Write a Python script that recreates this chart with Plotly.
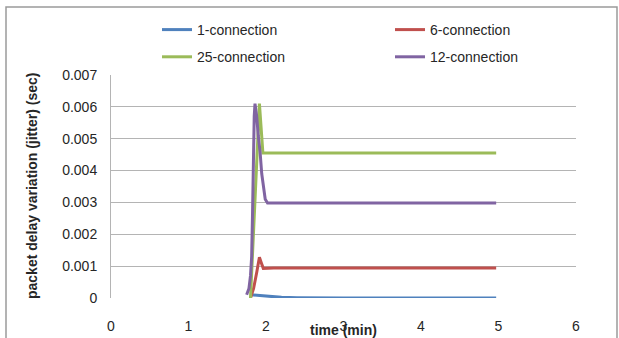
import plotly.graph_objects as go

# ---- data ----
x_1 = [1.81, 1.86, 1.92, 2.0, 2.1, 2.2, 2.4, 2.7, 3.0, 4.97]
y_1 = [0.0001, 0.00009, 0.00007, 0.00005, 0.00003, 0.00002, 0.00001, 0.000005, 0.0, 0.0]

x_6 = [1.80, 1.84, 1.88, 1.915, 1.94, 1.965, 2.1, 4.97]
y_6 = [0.0, 0.0003, 0.0008, 0.00128, 0.0011, 0.00093, 0.00094, 0.00094]

x_25 = [1.80, 1.86, 1.915, 1.96, 2.1, 4.97]
y_25 = [0.0, 0.0030, 0.0061, 0.00455, 0.00455, 0.00455]

x_12 = [1.75, 1.78, 1.80, 1.815, 1.825, 1.836, 1.848, 1.858, 1.88, 1.90, 1.923, 1.945, 1.965, 1.99, 2.02, 2.2, 4.97]
y_12 = [0.0001, 0.0003, 0.0007, 0.0013, 0.0025, 0.0044, 0.0057, 0.0061, 0.0057, 0.0051, 0.0046, 0.0039,
        0.0035, 0.0031, 0.00298, 0.00298, 0.00298]

names = ["1-connection", "6-connection", "25-connection", "12-connection"]
colors = ["#4F81BD", "#C0504D", "#9BBB59", "#8064A2"]
legends = ["legend", "legend2", "legend", "legend2"]

x_ticks = [0, 1, 2, 3, 4, 5, 6]
y_ticks = [0, 0.001, 0.002, 0.003, 0.004, 0.005, 0.006, 0.007]
y_tick_text = ["0", "0.001", "0.002", "0.003", "0.004", "0.005", "0.006", "0.007"]

FONT = "Liberation Sans, Arial, sans-serif"
TXT = "#262626"

fig = go.Figure()
for xs, ys, n, c, lg in zip([x_1, x_6, x_25, x_12], [y_1, y_6, y_25, y_12], names, colors, legends):
    fig.add_trace(go.Scatter(x=xs, y=ys, mode="lines", name=n, legend=lg, legendgroup=n,
                             line=dict(color=c, width=3)))

L, R, T, B = 111, 43, 75, 40
W, H = 619, 338
pw, ph = W - L - R, H - T - B

leg_common = dict(yanchor="top", xanchor="left", orientation="v", tracegroupgap=6,
                  traceorder="grouped", font=dict(family=FONT, size=14, color=TXT),
                  bgcolor="rgba(0,0,0,0)", itemwidth=30)

fig.update_layout(
    width=W, height=H,
    margin=dict(l=L, r=R, t=T, b=B, autoexpand=False),
    paper_bgcolor="white", plot_bgcolor="white",
    font=dict(family=FONT, size=14, color=TXT),
    showlegend=True,
    legend=dict(x=(157 - L) / pw, y=1 + (75 - 14) / ph, **leg_common),
    legend2=dict(x=(390 - L) / pw, y=1 + (75 - 14) / ph, **leg_common),
    xaxis=dict(range=[0, 6], tickvals=x_ticks, showgrid=False, zeroline=False,
               showline=False, ticks="", ticklabelstandoff=18, automargin=False,
               tickfont=dict(family=FONT, size=14, color=TXT)),
    yaxis=dict(range=[0, 0.007], tickvals=y_ticks, ticktext=y_tick_text,
               showgrid=True, gridcolor="#B4B4B4", gridwidth=1, zeroline=False,
               showline=True, linecolor="#B4B4B4", linewidth=1, ticks="",
               ticklabelstandoff=10, automargin=False,
               tickfont=dict(family=FONT, size=14, color=TXT)),
)

# axis titles
fig.add_annotation(text="<b>time (min)</b>", xref="paper", yref="paper",
                   x=(343 - L) / pw, y=-(330 - 298) / ph, xanchor="center", yanchor="middle",
                   showarrow=False, font=dict(family=FONT, size=14, color=TXT))
fig.add_annotation(text="<b>packet delay variation (jitter) (sec)</b>", xref="paper", yref="paper",
                   x=-(L - 32) / pw, y=(298 - 186) / ph, xanchor="center", yanchor="middle",
                   textangle=-90, showarrow=False, font=dict(family=FONT, size=14, color=TXT))

# chart frame
fig.add_shape(type="rect", xref="paper", yref="paper",
              x0=-(L - 6) / pw, x1=(617 - L) / pw, y0=-(B + 10) / ph, y1=(298 - 7) / ph,
              line=dict(color="#9A9A9A", width=1.5), layer="below")

fig.write_html("out.html")
